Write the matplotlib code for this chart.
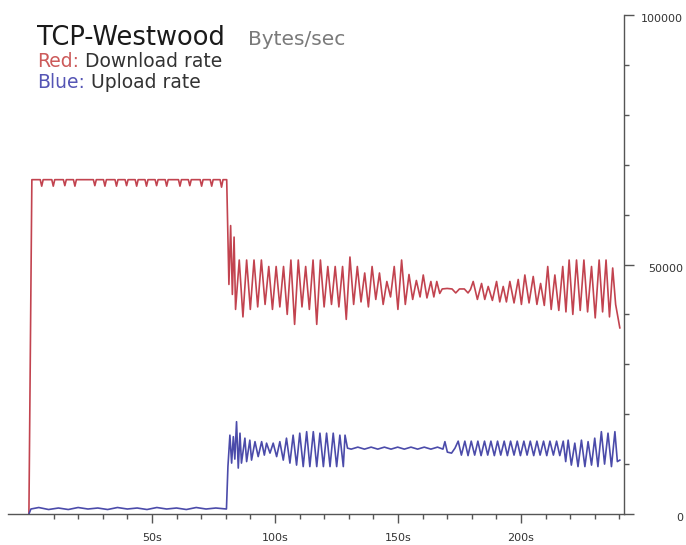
import matplotlib

matplotlib.use("Agg")
import matplotlib.pyplot as plt
from matplotlib.transforms import ScaledTranslation

# --- data (time in s, rate in bytes/sec) ---
red_t = [
    0, 1.2,
    4.6, 5.2, 5.8, 9.3, 9.9, 10.5, 14.0, 14.6, 15.2, 18.1, 18.7, 19.3,
    26.2, 26.8, 27.4, 30.3, 30.9, 31.5, 35.0, 35.6, 36.2, 39.1, 39.7, 40.3,
    43.2, 43.8, 44.4, 47.2, 47.8, 48.4, 51.3, 51.9, 52.5, 55.4, 56.0, 56.6,
    60.8, 61.4, 62.0, 64.8, 65.4, 66.0, 69.6, 70.2, 70.8, 73.7, 74.3, 74.9,
    77.7, 78.3, 78.9, 80.4,
    81.3, 82.0, 82.7, 83.4, 84.0,
    85.5, 87.0, 88.5, 90.0, 91.5, 93.0, 94.5, 96.0, 97.5, 99.0,
    100.5, 102.0, 103.5, 105.0, 106.5, 108.0, 109.5, 111.0, 112.5, 114.0,
    115.5, 117.0, 118.5, 120.0, 121.5, 123.0, 124.5, 126.0, 127.5, 129.0,
    130.5, 132.0, 133.5, 135.0, 136.5, 138.0, 139.5, 141.0, 142.5, 144.0,
    145.5, 147.0, 148.5, 150.0, 151.5, 153.0, 154.5, 156.0, 157.5, 159.0,
    160.3, 161.8, 163.4, 164.6, 165.8, 167.0, 168.0, 170.0, 172.0, 173.5,
    175.0, 177.0, 178.5, 179.5,
    180.6, 182.3, 184.0, 185.3, 186.7, 188.4, 190.1, 191.4, 192.8, 194.1,
    195.5, 197.2, 198.9, 200.2, 201.6, 203.3, 205.0, 206.5, 208.0, 209.5,
    210.9, 212.3, 213.8, 215.4, 217.0, 218.3, 219.6, 221.1, 222.6, 224.1,
    225.6, 227.1, 228.7, 230.2, 231.8, 233.2, 234.6, 236.0, 237.3, 238.5,
    240.2,
]
red_v = [
    0, 67000,
    67000, 65700, 67000, 67000, 65700, 67000, 67000, 65800, 67000, 67000, 65700, 67000,
    67000, 65800, 67000, 67000, 65700, 67000, 67000, 65700, 67000, 67000, 65800, 67000,
    67000, 65700, 67000, 67000, 65700, 67000, 67000, 65800, 67000, 67000, 65700, 67000,
    67000, 65700, 67000, 67000, 65800, 67000, 67000, 65700, 67000, 67000, 65700, 67000,
    67000, 65500, 67000, 67000,
    46000, 57800, 44000, 55500, 41000,
    50900, 39500, 50900, 41000, 50900, 41500, 50900, 42000, 49600, 41000,
    49600, 41500, 49600, 40000, 50900, 38000, 50900, 41500, 49600, 41000,
    50900, 38000, 50900, 41500, 49600, 42000, 49600, 41500, 49600, 39000,
    51500, 42000, 49600, 42500, 48300, 41500, 49600, 43000, 48300, 42000,
    46600, 43500, 49600, 41000, 50900, 42000, 48000, 43000, 46800, 43500,
    47900, 43300, 46600, 43500, 46600, 44200, 45100, 45200, 45100, 44300,
    45100, 45100, 44300, 45000,
    46600, 43000, 46200, 43000, 45600, 42800, 46600, 42500, 45600, 42500,
    46600, 42300, 47000, 42000, 47900, 42300, 47600, 42000, 46200, 41800,
    49600, 41000, 47900, 40800, 49600, 40500, 50900, 40000, 50900, 40800,
    50900, 40500, 49600, 39300, 50900, 40500, 50900, 39500, 49300, 42000,
    37300,
]

blue_t = [
    0, 0.8, 4, 8, 12, 16, 20, 24, 28, 32, 36, 40, 44, 48, 52, 56, 60, 64,
    68, 72, 76, 80.3,
    80.9, 81.7, 82.4, 83.1, 83.7, 84.4, 85.1, 85.8, 86.4, 87.8, 88.5, 89.8,
    90.5, 91.9, 93.2, 94.6, 95.7, 96.6, 98.0, 99.3, 100.7, 102.0, 103.4,
    104.7, 106.1, 107.4, 108.8, 110.1, 111.5, 112.9, 114.2, 115.6, 117.0,
    118.3, 119.7, 121.0, 122.4, 123.7, 125.1, 126.4, 127.8, 128.5, 129.5,
    131.0, 133.7, 136.4, 139.1, 141.8, 144.5, 147.2, 149.9, 152.6, 155.3,
    158.0, 160.7, 163.4, 166.1, 168.3,
    169.1, 170.1, 171.8, 173.2,
    174.5, 175.8, 177.2, 178.5, 179.8, 181.2, 182.5, 183.8, 185.2, 186.5,
    187.8, 189.2, 190.5, 191.8, 193.2, 194.5, 195.8, 197.2, 198.5, 199.8,
    201.2, 202.5, 203.8, 205.2, 206.5, 207.8, 209.2, 210.5, 211.8, 213.2,
    214.5, 215.8, 217.2, 218.2,
    219.2, 220.5, 221.9, 223.2, 224.6, 226.0, 227.3, 228.7, 230.0, 231.3,
    232.7, 234.0, 235.4, 236.8, 238.2, 239.2, 240.2,
]
blue_v = [
    0, 1000, 1300, 900, 1200, 900, 1300, 1000, 1200, 900, 1300, 1000, 1200,
    900, 1300, 1000, 1200, 900, 1300, 1000, 1200, 1000,
    9500, 15800, 10200, 15500, 11000, 18500, 9200, 16200, 10200, 15200,
    10500, 14800, 10800, 14500, 11500, 14500, 11800, 14200, 12200, 14200,
    11500, 14500, 10800, 15200, 10200, 15800, 9800, 16200, 9500, 16500,
    9500, 16500, 9500, 16200, 9500, 16200, 9500, 16200, 9500, 15800, 9500,
    15800, 13200,
    13000, 13400, 13000, 13400, 13000, 13400, 13000, 13400, 13000, 13400,
    13000, 13400, 13000, 13400, 13000,
    14500, 12400, 12200, 13200,
    14600, 11800, 14600, 11700, 14600, 11800, 14600, 11700, 14600, 11800,
    14600, 11700, 14600, 11800, 14600, 11700, 14600, 11800, 14600, 11700,
    14600, 11800, 14600, 11700, 14600, 11800, 14600, 11700, 14600, 11800,
    14600, 11700, 14600, 10500,
    14800, 9800, 14200, 9500, 14800, 9500, 14500, 9800, 15200, 9500,
    16500, 10000, 16200, 9500, 16500, 10500, 10800,
]

x_major = [50, 100, 150, 200]
x_major_labels = ["50s", "100s", "150s", "200s"]
x_minor = list(range(10, 241, 10))
y_major = [0, 50000, 100000]
y_major_labels = ["0", "50000", "100000"]
y_minor = list(range(0, 100001, 10000))

RED = "#c2434f"
BLUE = "#4b4baa"
AXIS = "#555555"

W, H = 686, 545
fig = plt.figure(figsize=(W / 100, H / 100), dpi=100)
ax = fig.add_axes([8 / W, 31 / H, 616 / W, 499 / H])

ax.plot(red_t, red_v, color=RED, lw=1.2)
ax.plot(blue_t, blue_v, color=BLUE, lw=1.2)

ax.set_xlim(-8.5, 241.9)
ax.set_ylim(0, 100000)

for side in ("left", "top"):
    ax.spines[side].set_visible(False)
for side in ("right", "bottom"):
    ax.spines[side].set_color(AXIS)
    ax.spines[side].set_linewidth(1.0)

ax.yaxis.tick_right()
ax.set_yticks(y_major)
ax.set_yticklabels(y_major_labels)
ax.set_yticks(y_minor, minor=True)
ax.set_xticks(x_major)
ax.set_xticklabels(x_major_labels)
ax.set_xticks(x_minor, minor=True)

ax.tick_params(axis="both", which="both", colors=AXIS, width=1.0, direction="out",
               labelsize=8, labelcolor="#333333")
ax.tick_params(axis="x", which="major", length=6.5, pad=7)
ax.tick_params(axis="x", which="minor", length=3.5)
ax.tick_params(axis="y", which="major", length=7, pad=35.5)
ax.tick_params(axis="y", which="minor", length=3.5)

shift = ScaledTranslation(0, -3 / 100, fig.dpi_scale_trans)
for lbl in ax.get_yticklabels():
    lbl.set_ha("right")
    lbl.set_transform(lbl.get_transform() + shift)

# header texts
fig.text(37 / W, 1 - 45 / H, "TCP-Westwood", fontsize=18.5, color="#1a1a1a", va="baseline")
fig.text(248 / W, 1 - 45 / H, "Bytes/sec", fontsize=14.5, color="#7a7a7a", va="baseline")

t1 = fig.text(37 / W, 1 - 67 / H, "Red:", fontsize=13.5, color="#cc5a5a", va="baseline")
ax.annotate(" Download rate", xy=(1, 0), xycoords=t1, va="bottom", ha="left",
            fontsize=13.5, color="#333333", annotation_clip=False)
t2 = fig.text(37 / W, 1 - 88 / H, "Blue:", fontsize=13.5, color="#5555b5", va="baseline")
ax.annotate(" Upload rate", xy=(1, 0), xycoords=t2, va="bottom", ha="left",
            fontsize=13.5, color="#333333", annotation_clip=False)

fig.savefig("out.png", dpi=100)
